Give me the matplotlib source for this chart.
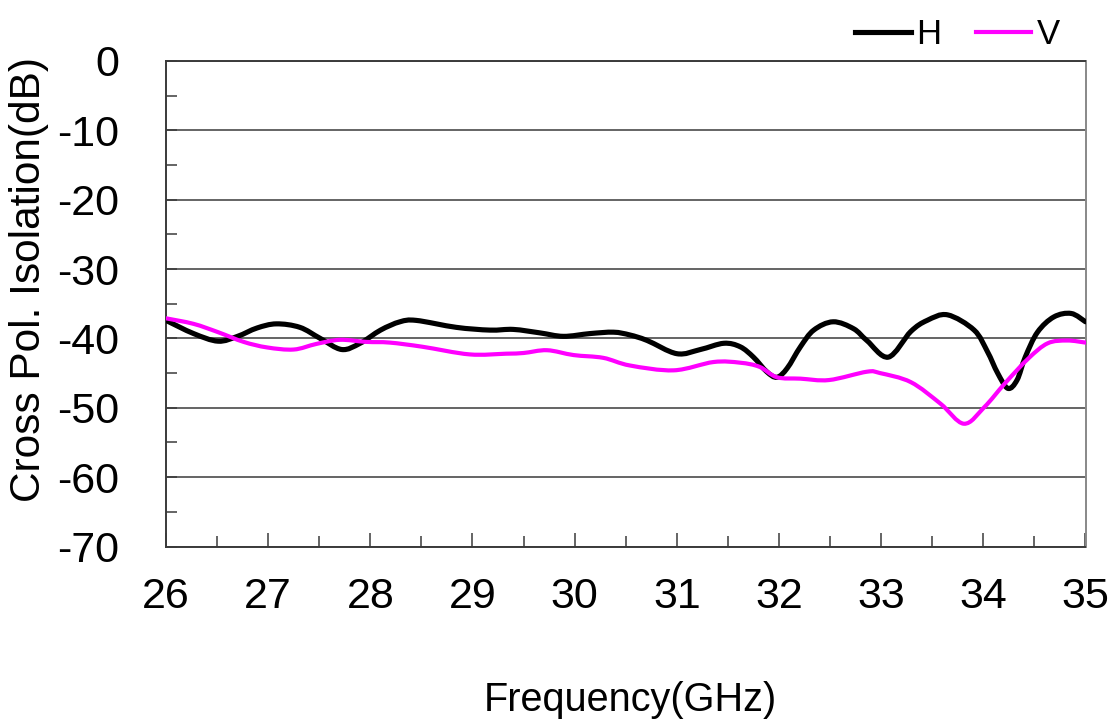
import matplotlib
matplotlib.use("Agg")
import matplotlib.pyplot as plt
from matplotlib.ticker import MultipleLocator
from matplotlib.path import Path
from matplotlib.patches import PathPatch
from matplotlib.lines import Line2D

plt.rcParams['font.family'] = ['Liberation Sans', 'DejaVu Sans']

freq_h = [26.0, 26.27, 26.51, 26.70, 26.89, 27.08, 27.31, 27.51, 27.72, 27.90, 28.10,
          28.29, 28.45, 28.84, 29.17, 29.40, 29.66, 29.89, 30.15, 30.38, 30.54,
          30.71, 31.0, 31.23, 31.46, 31.62, 31.75, 31.88, 31.98, 32.08, 32.21,
          32.34, 32.53, 32.73, 32.86, 33.07, 33.29, 33.45, 33.65, 33.91,
          34.04, 34.14, 34.24, 34.33, 34.41, 34.53, 34.69, 34.86, 35.0]
iso_h = [-37.4, -39.3, -40.4, -39.7, -38.5, -37.9, -38.4, -40.0, -41.6, -40.7, -38.8,
         -37.6, -37.4, -38.4, -38.8, -38.7, -39.2, -39.7, -39.3, -39.1, -39.5,
         -40.3, -42.2, -41.6, -40.7, -41.2, -42.7, -44.8, -45.6, -44.3, -41.2,
         -38.8, -37.6, -38.6, -40.3, -42.7, -39.0, -37.4, -36.6, -38.8,
         -41.9, -45.0, -47.2, -46.0, -42.7, -39.1, -36.9, -36.4, -37.6]

freq_v = [26.0, 26.27, 26.51, 26.76, 26.99, 27.25, 27.47, 27.70, 27.96, 28.19, 28.51,
          28.97, 29.33, 29.50, 29.73, 29.99, 30.28, 30.54, 30.97, 31.36, 31.62,
          31.81, 31.98, 32.21, 32.49, 32.86, 32.99, 33.29, 33.58, 33.81, 34.01,
          34.21, 34.44, 34.63, 34.82, 35.0]
iso_v = [-37.1, -37.9, -39.1, -40.5, -41.3, -41.6, -40.8, -40.2, -40.5, -40.6, -41.2,
         -42.3, -42.2, -42.1, -41.7, -42.4, -42.8, -43.9, -44.6, -43.4, -43.5,
         -44.1, -45.6, -45.8, -46.0, -44.8, -45.0, -46.3, -49.4, -52.3, -49.9,
         -46.5, -42.9, -40.7, -40.3, -40.6]

x_ticks = [26, 27, 28, 29, 30, 31, 32, 33, 34, 35]
y_ticks = [0, -10, -20, -30, -40, -50, -60, -70]


def smooth_path(xs, ys):
    """Excel-style smoothed line: cubic Bezier segments through the data points."""
    pts = list(zip(xs, ys))
    n = len(pts)
    verts = [pts[0]]
    codes = [Path.MOVETO]
    for i in range(n - 1):
        p0 = pts[i - 1] if i > 0 else pts[i]
        p1 = pts[i]
        p2 = pts[i + 1]
        p3 = pts[i + 2] if i + 2 < n else pts[i + 1]
        c1 = (p1[0] + (p2[0] - p0[0]) / 6, p1[1] + (p2[1] - p0[1]) / 6)
        c2 = (p2[0] - (p3[0] - p1[0]) / 6, p2[1] - (p3[1] - p1[1]) / 6)
        verts += [c1, c2, p2]
        codes += [Path.CURVE4] * 3
    return Path(verts, codes)


W, H = 1109, 727
fig = plt.figure(figsize=(W / 100, H / 100), dpi=100)
ax = fig.add_axes([166 / W, 1 - 546.5 / H, (1085.5 - 166) / W, (546.5 - 61) / H])

ax.add_patch(PathPatch(smooth_path(freq_h, iso_h), facecolor='none', edgecolor='black',
                       lw=3.7, joinstyle='round', capstyle='round', zorder=3))
ax.add_patch(PathPatch(smooth_path(freq_v, iso_v), facecolor='none', edgecolor='#ff00ff',
                       lw=3.0, joinstyle='round', capstyle='round', zorder=4))

ax.set_xlim(26, 35)
ax.set_ylim(-70, 0)
ax.set_xticks(x_ticks)
ax.set_yticks(y_ticks)
ax.set_xticklabels([str(t) for t in x_ticks])
ax.set_yticklabels([str(t) for t in y_ticks])
ax.xaxis.set_minor_locator(MultipleLocator(0.5))
ax.yaxis.set_minor_locator(MultipleLocator(5))

ax.grid(axis='y', which='major', color='#3a3a3a', lw=1.1)
ax.tick_params(axis='both', which='both', direction='in', color='#3a3a3a', width=1.1,
               labelsize=31, top=False, right=False)
ax.tick_params(axis='x', which='major', length=10, pad=22)
ax.tick_params(axis='x', which='minor', length=8)
ax.tick_params(axis='y', which='major', length=8, pad=34)
ax.tick_params(axis='y', which='minor', length=8)
for s in ax.spines.values():
    s.set_color('#3a3a3a')
    s.set_linewidth(1.4)
ax.spines['right'].set_color('#888888')

fig.text(29 / W, 1 - 279 / H, 'Cross Pol. Isolation(dB)', rotation=90,
         ha='center', va='center', fontsize=30.5)
fig.text(630 / W, 1 - 700 / H, 'Frequency(GHz)', ha='center', va='center', fontsize=28.5)

handles = [Line2D([], [], color='black', lw=3.7), Line2D([], [], color='#ff00ff', lw=3.0)]
fig.legend(handles, ['H', 'V'], loc='upper right', bbox_to_anchor=(1084 / W, 1 + 6 / H),
           ncol=2, frameon=False, fontsize=25, handlelength=1.6, handletextpad=0.15,
           columnspacing=1.0, borderpad=0.2)

fig.savefig('out.png', dpi=100)
